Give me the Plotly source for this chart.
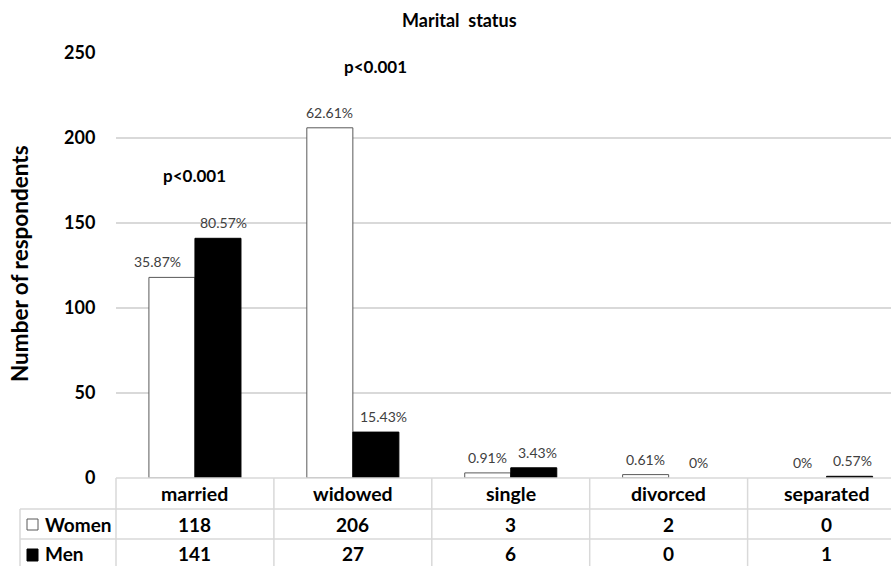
import plotly.graph_objects as go

categories = ["married", "widowed", "single", "divorced", "separated"]
women = [118, 206, 3, 2, 0]
men = [141, 27, 6, 0, 1]
women_pct = ["35.87%", "62.61%", "0.91%", "0.61%", "0%"]
men_pct = ["80.57%", "15.43%", "3.43%", "0%", "0.57%"]
pvalue_text = ["p<0.001", "p<0.001"]
pvalue_cat = ["married", "widowed"]
pvalue_y = [178, 242]
y_ticks = [0, 50, 100, 150, 200, 250]

FONT = "Lato"
W, H = 891, 566
L, T = 116, 53
B = H - 478
PW = W - L
PH = H - T - B
CAT_PX = 157.9
n_vis = PW / CAT_PX

def px_x(p):
    return (p - 116) / PW

def px_y(p):
    return (478 - p) / PH

fig = go.Figure()
fig.add_trace(go.Bar(x=categories, y=women, name="Women",
                     marker=dict(color="white",
                                 line=dict(color="#595959", width=[1 if v else 0 for v in women]))))
fig.add_trace(go.Bar(x=categories, y=men, name="Men",
                     marker=dict(color="black",
                                 line=dict(color="black", width=[1 if v else 0 for v in men]))))

ann = []
w_dx = [-14, 0, 0, 0, -1]
m_dx = [6, 8, 4, 7, 3]
pct_font = dict(family=FONT, size=14, color="#404040")
for i, c in enumerate(categories):
    ann.append(dict(x=c, y=women[i], xref="x", yref="y", text=women_pct[i], showarrow=False,
                    xshift=-23 + w_dx[i], yshift=5, xanchor="center", yanchor="bottom",
                    font=pct_font))
    ann.append(dict(x=c, y=men[i], xref="x", yref="y", text=men_pct[i], showarrow=False,
                    xshift=23 + m_dx[i], yshift=5, xanchor="center", yanchor="bottom",
                    font=pct_font))
p_dx = [0, 23]
for t, c, yv, dx in zip(pvalue_text, pvalue_cat, pvalue_y, p_dx):
    ann.append(dict(x=c, y=yv, xref="x", yref="y", text=t, showarrow=False,
                    xshift=dx, xanchor="center", yanchor="middle",
                    font=dict(family=FONT, size=17, color="black", weight="bold")))
ann.append(dict(x=px_x(459.5), y=px_y(20), xref="paper", yref="paper",
                text="Marital  status", showarrow=False, xanchor="center", yanchor="middle",
                font=dict(family=FONT, size=18, color="black", weight="bold")))
ann.append(dict(x=px_x(19), y=px_y(264), xref="paper", yref="paper", textangle=-90,
                text="Number of respondents", showarrow=False, xanchor="center", yanchor="middle",
                borderpad=0,
                font=dict(family=FONT, size=22.5, color="black", weight="bold")))
row_y = [px_y(493.5), px_y(524), px_y(553)]
tfont = dict(family=FONT, size=19.5, color="black", weight="bold")
nfont = dict(family=FONT, size=19, color="black", weight="bold")
for i, c in enumerate(categories):
    ann.append(dict(x=c, y=row_y[0], xref="x", yref="paper", text=c, showarrow=False,
                    xanchor="center", yanchor="middle", font=tfont))
    ann.append(dict(x=c, y=row_y[1], xref="x", yref="paper", text=str(women[i]), showarrow=False,
                    xanchor="center", yanchor="middle", font=nfont))
    ann.append(dict(x=c, y=row_y[2], xref="x", yref="paper", text=str(men[i]), showarrow=False,
                    xanchor="center", yanchor="middle", font=nfont))
ann.append(dict(x=px_x(43), y=row_y[1], xref="paper", yref="paper", text="Women",
                xanchor="left", yanchor="middle", showarrow=False,
                font=dict(family=FONT, size=19, color="black", weight="bold")))
ann.append(dict(x=px_x(43), y=row_y[2], xref="paper", yref="paper", text="Men",
                xanchor="left", yanchor="middle", showarrow=False,
                font=dict(family=FONT, size=19, color="black", weight="bold")))

grid = "#d9d9d9"
shapes = []
for yy in [509, 539]:
    shapes.append(dict(type="line", xref="paper", yref="paper", x0=px_x(20), x1=1,
                       y0=px_y(yy), y1=px_y(yy), line=dict(color=grid, width=1.5)))
shapes.append(dict(type="line", xref="paper", yref="paper", x0=0, x1=1,
                   y0=0, y1=0, line=dict(color=grid, width=1.5)))
shapes.append(dict(type="line", xref="paper", yref="paper", x0=px_x(20), x1=px_x(20),
                   y0=px_y(509), y1=px_y(570), line=dict(color=grid, width=1.5)))
for k in range(5):
    xv = 116 + k * CAT_PX
    shapes.append(dict(type="line", xref="paper", yref="paper", x0=px_x(xv), x1=px_x(xv),
                       y0=0, y1=px_y(570), line=dict(color=grid, width=1.5)))
shapes.append(dict(type="rect", xref="paper", yref="paper", x0=px_x(27), x1=px_x(38),
                   y0=px_y(530), y1=px_y(519), fillcolor="white",
                   line=dict(color="#595959", width=1)))
shapes.append(dict(type="rect", xref="paper", yref="paper", x0=px_x(27), x1=px_x(38),
                   y0=px_y(561), y1=px_y(549), fillcolor="black",
                   line=dict(color="black", width=1)))

fig.update_layout(
    width=W, height=H, autosize=False,
    margin=dict(l=L, r=0, t=T, b=B, pad=0),
    plot_bgcolor="white", paper_bgcolor="white",
    barmode="group", bargap=0.417, bargroupgap=0,
    showlegend=False,
    annotations=ann, shapes=shapes,
    xaxis=dict(range=[-0.5, -0.5 + n_vis], showticklabels=False, showgrid=False,
               zeroline=False, showline=False, ticks=""),
    yaxis=dict(range=[0, 250], tickvals=y_ticks, showgrid=True, gridcolor=grid, gridwidth=1.5,
               zeroline=False, showline=False, ticks="outside", ticklen=16,
               tickcolor="rgba(0,0,0,0)",
               tickfont=dict(family=FONT, size=18, color="black", weight="bold")),
)

fig.write_html("out.html", config={"displayModeBar": False},
               post_script="document.body.style.margin='0px';document.body.style.overflow='hidden';")
